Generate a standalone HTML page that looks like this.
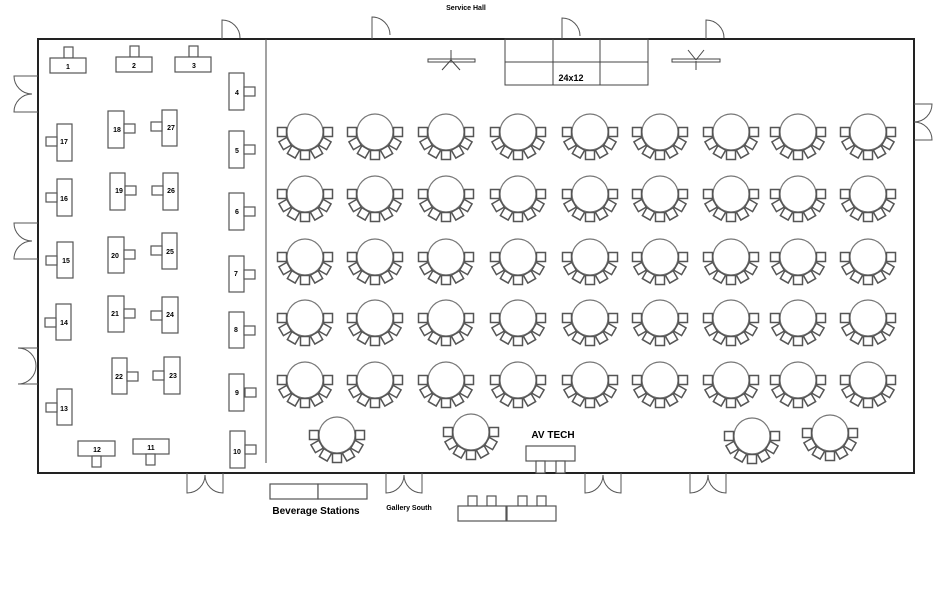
<!DOCTYPE html>
<html><head><meta charset="utf-8"><style>
html,body{margin:0;padding:0;background:#fff}
svg{display:block;font-family:"Liberation Sans",Arial,sans-serif;font-weight:bold}
</style></head><body>
<svg width="936" height="594" viewBox="0 0 936 594" xmlns="http://www.w3.org/2000/svg">
<defs>
<g id="rt" fill="#fff" stroke="#555" stroke-width="1.5">
<circle cx="0" cy="0" r="18" stroke="#777" stroke-width="1.2"/>
<rect x="-4.5" y="-4.5" width="9" height="9" transform="rotate(0) translate(23,0)"/>
<rect x="-4.5" y="-4.5" width="9" height="9" transform="rotate(30) translate(23,0)"/>
<rect x="-4.5" y="-4.5" width="9" height="9" transform="rotate(60) translate(23,0)"/>
<rect x="-4.5" y="-4.5" width="9" height="9" transform="rotate(90) translate(23,0)"/>
<rect x="-4.5" y="-4.5" width="9" height="9" transform="rotate(120) translate(23,0)"/>
<rect x="-4.5" y="-4.5" width="9" height="9" transform="rotate(150) translate(23,0)"/>
<rect x="-4.5" y="-4.5" width="9" height="9" transform="rotate(180) translate(23,0)"/>
</g>
</defs>
<text x="466" y="10" font-size="7" text-anchor="middle">Service Hall</text>
<!-- room -->
<rect x="38" y="39" width="876" height="434" fill="none" stroke="#222" stroke-width="2"/>
<line x1="266" y1="39" x2="266" y2="463" stroke="#444" stroke-width="1"/>
<!-- top doors -->
<g fill="none" stroke="#555" stroke-width="1">
<path d="M222,39 V20 A18,18 0 0 1 240,38"/>
<path d="M372,39 V17 A18,18 0 0 1 390,35"/>
<path d="M562,39 V18 A18,18 0 0 1 580,36"/>
<path d="M706,39 V20 A18,18 0 0 1 724,38"/>
<!-- left doors -->
<path d="M38,76 H14 A18,18 0 0 0 32,94 M38,112 H14 A18,18 0 0 1 32,94"/>
<path d="M38,223 H14 A18,18 0 0 0 32,241 M38,259 H14 A18,18 0 0 1 32,241"/>
<path d="M38,348 H18 A18,18 0 0 1 36,366 M38,384 H18 A18,18 0 0 0 36,366"/>
<!-- right doors -->
<path d="M914,104 H932 A18,18 0 0 1 914,122 M914,140 H932 A18,18 0 0 0 914,122"/>
<!-- bottom doors -->
<path d="M187,473 V493 A18,18 0 0 0 205,475 M223,473 V493 A18,18 0 0 1 205,475"/>
<path d="M386,473 V493 A18,18 0 0 0 404,475 M422,473 V493 A18,18 0 0 1 404,475"/>
<path d="M585,473 V493 A18,18 0 0 0 603,475 M621,473 V493 A18,18 0 0 1 603,475"/>
<path d="M690,473 V493 A18,18 0 0 0 708,475 M726,473 V493 A18,18 0 0 1 708,475"/>
</g>
<!-- stage -->
<g fill="none" stroke="#444" stroke-width="1">
<rect x="505" y="39" width="143" height="46"/>
<line x1="553" y1="39" x2="553" y2="85"/><line x1="600" y1="39" x2="600" y2="85"/>
<line x1="505" y1="62" x2="648" y2="62"/>
</g>
<text x="571" y="81" font-size="9" text-anchor="middle">24x12</text>
<!-- fans -->
<g stroke="#444" stroke-width="1" fill="#fff">
<rect x="428" y="59" width="47" height="3"/>
<line x1="451" y1="50" x2="451" y2="60"/><line x1="451" y1="60" x2="442" y2="70"/><line x1="451" y1="60" x2="460" y2="70"/>
<rect x="672" y="59" width="48" height="3"/>
<line x1="696" y1="61" x2="696" y2="70"/><line x1="696" y1="60" x2="688" y2="50"/><line x1="696" y1="60" x2="704" y2="50"/>
</g>
<!-- round tables -->
<g>
<use href="#rt" x="305" y="132"/><use href="#rt" x="375" y="132"/><use href="#rt" x="446" y="132"/><use href="#rt" x="518" y="132"/><use href="#rt" x="590" y="132"/><use href="#rt" x="660" y="132"/><use href="#rt" x="731" y="132"/><use href="#rt" x="798" y="132"/><use href="#rt" x="868" y="132"/>
<use href="#rt" x="305" y="194"/><use href="#rt" x="375" y="194"/><use href="#rt" x="446" y="194"/><use href="#rt" x="518" y="194"/><use href="#rt" x="590" y="194"/><use href="#rt" x="660" y="194"/><use href="#rt" x="731" y="194"/><use href="#rt" x="798" y="194"/><use href="#rt" x="868" y="194"/>
<use href="#rt" x="305" y="257"/><use href="#rt" x="375" y="257"/><use href="#rt" x="446" y="257"/><use href="#rt" x="518" y="257"/><use href="#rt" x="590" y="257"/><use href="#rt" x="660" y="257"/><use href="#rt" x="731" y="257"/><use href="#rt" x="798" y="257"/><use href="#rt" x="868" y="257"/>
<use href="#rt" x="305" y="318"/><use href="#rt" x="375" y="318"/><use href="#rt" x="446" y="318"/><use href="#rt" x="518" y="318"/><use href="#rt" x="590" y="318"/><use href="#rt" x="660" y="318"/><use href="#rt" x="731" y="318"/><use href="#rt" x="798" y="318"/><use href="#rt" x="868" y="318"/>
<use href="#rt" x="305" y="380"/><use href="#rt" x="375" y="380"/><use href="#rt" x="446" y="380"/><use href="#rt" x="518" y="380"/><use href="#rt" x="590" y="380"/><use href="#rt" x="660" y="380"/><use href="#rt" x="731" y="380"/><use href="#rt" x="798" y="380"/><use href="#rt" x="868" y="380"/>
<use href="#rt" x="337" y="435"/><use href="#rt" x="471" y="432"/><use href="#rt" x="752" y="436"/><use href="#rt" x="830" y="433"/>
</g>
<!-- rectangular tables -->
<g fill="#fff" stroke="#555" stroke-width="1.2">
<rect x="64" y="47" width="9" height="11"/><rect x="50" y="58" width="36" height="15"/>
<rect x="130" y="46" width="9" height="11"/><rect x="116" y="57" width="36" height="15"/>
<rect x="189" y="46" width="9" height="11"/><rect x="175" y="57" width="36" height="15"/>
<rect x="229" y="73" width="15" height="37"/><rect x="244" y="87" width="11" height="9"/>
<rect x="229" y="131" width="15" height="37"/><rect x="244" y="145" width="11" height="9"/>
<rect x="229" y="193" width="15" height="37"/><rect x="244" y="207" width="11" height="9"/>
<rect x="229" y="256" width="15" height="36"/><rect x="244" y="270" width="11" height="9"/>
<rect x="229" y="312" width="15" height="36"/><rect x="244" y="326" width="11" height="9"/>
<rect x="229" y="374" width="15" height="37"/><rect x="245" y="388" width="11" height="9"/>
<rect x="230" y="431" width="15" height="37"/><rect x="245" y="445" width="11" height="9"/>
<rect x="57" y="124" width="15" height="37"/><rect x="46" y="137" width="11" height="9"/>
<rect x="108" y="111" width="16" height="37"/><rect x="124" y="124" width="11" height="9"/>
<rect x="162" y="110" width="15" height="36"/><rect x="151" y="122" width="11" height="9"/>
<rect x="57" y="179" width="15" height="37"/><rect x="46" y="193" width="11" height="9"/>
<rect x="110" y="173" width="15" height="37"/><rect x="125" y="186" width="11" height="9"/>
<rect x="163" y="173" width="15" height="37"/><rect x="152" y="186" width="11" height="9"/>
<rect x="57" y="242" width="16" height="36"/><rect x="46" y="256" width="11" height="9"/>
<rect x="108" y="237" width="16" height="36"/><rect x="124" y="250" width="11" height="9"/>
<rect x="162" y="233" width="15" height="36"/><rect x="151" y="246" width="11" height="9"/>
<rect x="56" y="304" width="15" height="36"/><rect x="45" y="318" width="11" height="9"/>
<rect x="108" y="296" width="16" height="36"/><rect x="124" y="309" width="11" height="9"/>
<rect x="162" y="297" width="16" height="36"/><rect x="151" y="311" width="11" height="9"/>
<rect x="112" y="358" width="15" height="36"/><rect x="127" y="372" width="11" height="9"/>
<rect x="164" y="357" width="16" height="37"/><rect x="153" y="371" width="11" height="9"/>
<rect x="57" y="389" width="15" height="36"/><rect x="46" y="403" width="11" height="9"/>
<rect x="78" y="441" width="37" height="15"/><rect x="92" y="456" width="9" height="11"/>
<rect x="133" y="439" width="36" height="15"/><rect x="146" y="454" width="9" height="11"/>
<!-- AV -->
<rect x="526" y="446" width="49" height="15"/><rect x="536" y="461" width="9" height="12"/><rect x="556" y="461" width="9" height="12"/>
<!-- beverage -->
<rect x="270" y="484" width="48" height="15"/><rect x="318" y="484" width="49" height="15"/>
<!-- bottom right -->
<rect x="468" y="496" width="9" height="10"/><rect x="487" y="496" width="9" height="10"/><rect x="518" y="496" width="9" height="10"/><rect x="537" y="496" width="9" height="10"/>
<rect x="458" y="506" width="48" height="15"/><rect x="507" y="506" width="49" height="15"/>
</g>
<g font-size="7" text-anchor="middle">
<text x="68" y="69">1</text><text x="134" y="68">2</text><text x="194" y="68">3</text>
<text x="237" y="95">4</text><text x="237" y="153">5</text><text x="237" y="214">6</text>
<text x="236" y="276">7</text><text x="236" y="332">8</text><text x="237" y="395">9</text><text x="237" y="454">10</text>
<text x="64" y="144">17</text><text x="117" y="132">18</text><text x="171" y="130">27</text>
<text x="64" y="201">16</text><text x="119" y="193">19</text><text x="171" y="193">26</text>
<text x="66" y="263">15</text><text x="115" y="258">20</text><text x="170" y="254">25</text>
<text x="64" y="325">14</text><text x="115" y="316">21</text><text x="170" y="317">24</text>
<text x="119" y="379">22</text><text x="173" y="378">23</text>
<text x="64" y="411">13</text><text x="97" y="452">12</text><text x="151" y="450">11</text>
</g>
<text x="553" y="438" font-size="10" text-anchor="middle">AV TECH</text>
<text x="316" y="514" font-size="10" text-anchor="middle">Beverage Stations</text>
<text x="409" y="510" font-size="7" text-anchor="middle">Gallery South</text>
</svg>
</body></html>
